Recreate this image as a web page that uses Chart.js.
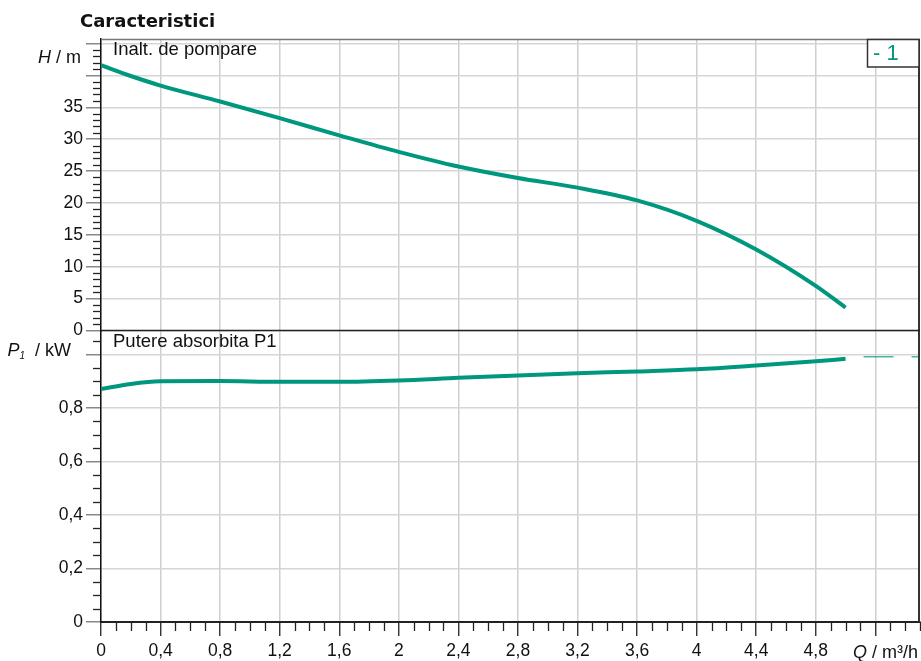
<!DOCTYPE html>
<html>
<head>
<meta charset="utf-8">
<script src="https://cdn.jsdelivr.net/npm/chart.js@4"></script>
<style>
html,body{margin:0;padding:0;background:#fff;}
#wrap{width:921px;height:661px;position:relative;}
</style>
</head>
<body>
<div id="wrap"><canvas id="c" width="921" height="661"></canvas></div>
<script>
// ---- data ----
const flowQ = [0, 0.2, 0.4, 0.8, 1.2, 1.6, 2.0, 2.4, 2.8, 3.2, 3.6, 4.0, 4.4, 4.8, 5.0];
const headH = [41.6, 39.9, 38.4, 35.9, 33.3, 30.6, 28.0, 25.7, 23.9, 22.4, 20.4, 17.2, 12.7, 7.0, 3.6];
const powerP = [0.871, 0.890, 0.900, 0.901, 0.898, 0.898, 0.903, 0.913, 0.922, 0.930, 0.937, 0.945, 0.959, 0.975, 0.984];
const extQ = [5.0, 5.5];
const extP = [0.992, 0.992];
const xTickLabels = ['0','0,4','0,8','1,2','1,6','2','2,4','2,8','3,2','3,6','4','4,4','4,8',''];
const hTickLabels = ['0','5','10','15','20','25','30','35','',''];
const pTickLabels = ['0','0,2','0,4','0,6','0,8',''];
const legendLabel = '- 1';

const TEAL = '#00977f';
const FONT = 'Liberation Sans, Arial, sans-serif';

function pts(xs, ys){ return xs.map((x,i)=>({x:x, y:ys[i]})); }

const minorTicks = {
  id:'minorTicks',
  afterDraw(chart){
    const ctx = chart.ctx, a = chart.chartArea, s = chart.scales;
    ctx.save();
    ctx.strokeStyle = '#222';
    ctx.lineWidth = 1.3;
    for (let i=1;i<=45;i++){ if (i%5===0) continue;
      const y = Math.round(s.yH.getPixelForValue(i))+0.5;
      ctx.beginPath(); ctx.moveTo(a.left-8,y); ctx.lineTo(a.left,y); ctx.stroke(); }
    for (let i=1;i<=21;i++){ if (i%4===0) continue;
      const y = Math.round(s.yP.getPixelForValue(i*0.05))+0.5;
      ctx.beginPath(); ctx.moveTo(a.left-8,y); ctx.lineTo(a.left,y); ctx.stroke(); }
    for (let i=1;i<=55;i++){ if (i%4===0) continue;
      const x = Math.round(s.x.getPixelForValue(i/10))+0.5;
      ctx.beginPath(); ctx.moveTo(x,a.bottom); ctx.lineTo(x,a.bottom+9); ctx.stroke(); }
    ctx.strokeStyle = '#777'; ctx.lineWidth = 1.5;
    ctx.beginPath(); ctx.moveTo(a.left,a.top+0.5); ctx.lineTo(a.right,a.top+0.5); ctx.stroke();
    ctx.strokeStyle = '#333'; ctx.lineWidth = 2;
    ctx.beginPath(); ctx.moveTo(a.right-1,a.top); ctx.lineTo(a.right-1,a.bottom); ctx.stroke();
    const yd = s.yH.getPixelForValue(0);
    ctx.strokeStyle = '#222'; ctx.lineWidth = 1.6;
    ctx.beginPath(); ctx.moveTo(a.left,yd); ctx.lineTo(a.right,yd); ctx.stroke();
    ctx.fillStyle = '#111';
    ctx.textBaseline = 'alphabetic';
    ctx.font = 'bold 18px "DejaVu Sans", Verdana, sans-serif';
    ctx.textAlign = 'left';
    ctx.fillText('Caracteristici', 80, 27);
    ctx.font = '18.5px ' + FONT;
    ctx.fillText('Inalt. de pompare', 113, 55);
    ctx.fillText('Putere absorbita P1', 113, 347);
    const it = 'italic 18px ' + FONT, nm = '18px ' + FONT;
    function mixed(parts, xRight, yBase){
      let w = 0;
      parts.forEach(p=>{ ctx.font=p.f; w += ctx.measureText(p.t).width; });
      let x = xRight - w;
      parts.forEach(p=>{ ctx.font=p.f; ctx.fillText(p.t, x, yBase + (p.dy||0)); x += ctx.measureText(p.t).width; });
    }
    mixed([{t:'H',f:it},{t:' / m',f:nm}], 81, 63);
    mixed([{t:'P',f:it},{t:'1',f:'italic 10px '+FONT,dy:3},{t:'  / kW',f:nm}], 71, 356);
    mixed([{t:'Q',f:it},{t:' / m³/h',f:nm}], 918, 658);
    ctx.strokeStyle = '#333'; ctx.lineWidth = 1.5;
    ctx.fillStyle = '#fff';
    ctx.fillRect(867, 39, 52, 28);
    ctx.strokeRect(867.5, 39.5, 51.5, 27.5);
    ctx.fillStyle = TEAL;
    ctx.font = '22px ' + FONT;
    ctx.fillText(legendLabel, 873, 60);
    ctx.restore();
  }
};

const yAfterFit = s => { s.width = 101; };

new Chart(document.getElementById('c'), {
  type: 'line',
  data: {
    datasets: [
      { data: pts(flowQ, headH), yAxisID:'yH', borderColor: TEAL, borderWidth: 4,
        pointRadius: 0, cubicInterpolationMode:'monotone', fill:false },
      { data: pts(flowQ, powerP), yAxisID:'yP', borderColor: TEAL, borderWidth: 4,
        pointRadius: 0, cubicInterpolationMode:'monotone', fill:false },
      { data: pts(extQ, extP), yAxisID:'yP', borderColor: 'rgba(0,151,127,0.7)', borderWidth: 1.5,
        pointRadius: 0, borderDash:[30,18], borderDashOffset:30, fill:false }
    ]
  },
  options: {
    responsive: false,
    animation: false,
    events: [],
    layout: { padding: { top: 39, right: 1, left: 0, bottom: 0 } },
    plugins: { legend: { display:false }, tooltip: { enabled:false }, title: { display:false } },
    scales: {
      x: {
        type:'linear', min:0, max:5.5, position:'bottom',
        afterFit: s => { s.height = 39; },
        ticks: { stepSize:0.4, includeBounds:false, autoSkip:false, maxRotation:0,
          color:'#111', font:{ family:FONT, size:17.5 }, padding: 5,
          callback: (v, i) => xTickLabels[i] !== undefined ? xTickLabels[i] : '' },
        grid: { color:'#cfcfcf', lineWidth:1.5, tickLength:14, tickColor:'#222', tickWidth:1.3 },
        border: { display:true, color:'#222', width:2 }
      },
      yP: {
        type:'linear', min:0, max:1.09, position:'left', stack:'v', stackWeight:1,
        afterFit: yAfterFit,
        ticks: { stepSize:0.2, includeBounds:false, autoSkip:false, color:'#111',
          font:{ family:FONT, size:17.5 }, padding: 3,
          callback: (v, i) => pTickLabels[i] !== undefined ? pTickLabels[i] : '' },
        grid: { color:'#d6d6d6', lineWidth:1.5, tickLength:15, tickColor:'#888', tickWidth:1.5 },
        border: { display:true, color:'#111', width:1.5 }
      },
      yH: {
        type:'linear', min:0, max:45.7, position:'left', stack:'v', stackWeight:1,
        afterFit: yAfterFit,
        ticks: { stepSize:5, includeBounds:false, autoSkip:false, color:'#111',
          font:{ family:FONT, size:17.5 }, padding: 3,
          callback: (v, i) => hTickLabels[i] !== undefined ? hTickLabels[i] : '' },
        grid: { color:'#d6d6d6', lineWidth:1.5, tickLength:15, tickColor:'#888', tickWidth:1.5 },
        border: { display:true, color:'#111', width:1.5 }
      }
    }
  },
  plugins: [minorTicks]
});
</script>
</body>
</html>
